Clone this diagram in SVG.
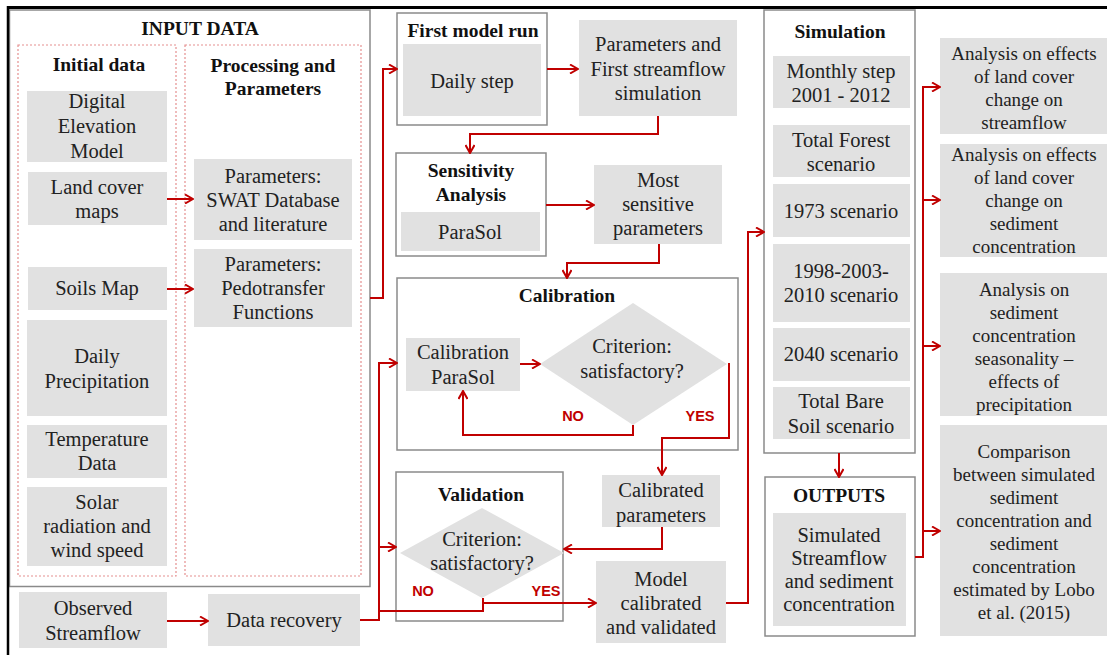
<svg xmlns="http://www.w3.org/2000/svg" width="1107" height="655" viewBox="0 0 1107 655">
<style>
.g{fill:#e1e1e1;stroke:none}
.f{fill:#fff;stroke:#8a8a8a;stroke-width:1.5}
.d{fill:none;stroke:#e58f8f;stroke-width:1.2;stroke-dasharray:2 2}
.t{font-family:"Liberation Serif","Times New Roman",serif;font-size:20.5px;fill:#222;text-anchor:middle}
.s{font-family:"Liberation Serif","Times New Roman",serif;font-size:19px;fill:#222;text-anchor:middle}
.b{font-family:"Liberation Serif","Times New Roman",serif;font-size:19.5px;font-weight:bold;fill:#111;text-anchor:middle}
.y{font-family:"Liberation Sans",Arial,sans-serif;font-size:14.5px;font-weight:bold;fill:#c00000;text-anchor:middle}
.c{fill:none;stroke:#c00000;stroke-width:2}
.a{marker-end:url(#arr)}
</style>
<defs>
<marker id="arr" viewBox="0 0 10 10" refX="9" refY="5" markerWidth="10" markerHeight="10" markerUnits="userSpaceOnUse" orient="auto">
<path d="M1,0.5 L9,5 L1,9.5" fill="none" stroke="#c00000" stroke-width="2"/>
</marker>
</defs>
<rect width="1107" height="655" fill="#fff"/>

<g id="input-data">
<rect class="f" x="9.5" y="10" width="360.5" height="576.5"/>
<text class="b" x="200" y="35">INPUT DATA</text>
<rect class="d" x="18" y="45" width="158" height="531"/>
<rect class="d" x="185" y="45" width="176" height="531"/>
<text class="b" x="99" y="71">Initial data</text>
<text class="b" x="273" y="72">Processing and</text>
<text class="b" x="273" y="95">Parameters</text>
</g>
<g id="dem"><rect class="g" x="27" y="91" width="140" height="71"/>
<text class="t" x="97" y="108">Digital</text><text class="t" x="97" y="133">Elevation</text><text class="t" x="97" y="158">Model</text></g>
<g id="landcover"><rect class="g" x="28" y="172" width="139" height="53"/>
<text class="t" x="97" y="194">Land cover</text><text class="t" x="97" y="218">maps</text></g>
<g id="soils"><rect class="g" x="28" y="267" width="139" height="43"/>
<text class="t" x="97" y="295">Soils Map</text></g>
<g id="precip"><rect class="g" x="27" y="320" width="140" height="96"/>
<text class="t" x="97" y="363">Daily</text><text class="t" x="97" y="388">Precipitation</text></g>
<g id="temp"><rect class="g" x="27" y="425" width="140" height="53"/>
<text class="t" x="97" y="446">Temperature</text><text class="t" x="97" y="470">Data</text></g>
<g id="solar"><rect class="g" x="27" y="487" width="140" height="79"/>
<text class="t" x="97" y="509">Solar</text><text class="t" x="97" y="533">radiation and</text><text class="t" x="97" y="557">wind speed</text></g>
<g id="swat"><rect class="g" x="194" y="159" width="158" height="81"/>
<text class="t" x="273" y="183">Parameters:</text><text class="t" x="273" y="207">SWAT Database</text><text class="t" x="273" y="231">and literature</text></g>
<g id="pedo"><rect class="g" x="194" y="249" width="158" height="78"/>
<text class="t" x="273" y="271">Parameters:</text><text class="t" x="273" y="295">Pedotransfer</text><text class="t" x="273" y="319">Functions</text></g>
<g id="observed"><rect class="g" x="19" y="592" width="148" height="56"/>
<text class="t" x="93" y="615">Observed</text><text class="t" x="93" y="640">Streamflow</text></g>
<g id="recovery"><rect class="g" x="208" y="594" width="152" height="52"/>
<text class="t" x="284" y="627">Data recovery</text></g>

<g id="first-run"><rect class="f" x="397" y="13" width="150" height="112"/>
<text class="b" x="473" y="37">First model run</text>
<rect class="g" x="403" y="44" width="138" height="72"/>
<text class="t" x="472" y="88">Daily step</text></g>
<g id="first-sim"><rect class="g" x="579" y="20" width="158" height="96"/>
<text class="t" x="658" y="51">Parameters and</text><text class="t" x="658" y="76">First streamflow</text><text class="t" x="658" y="100">simulation</text></g>
<g id="sensitivity"><rect class="f" x="396" y="153" width="150" height="103"/>
<text class="b" x="471" y="177">Sensitivity</text><text class="b" x="471" y="201">Analysis</text>
<rect class="g" x="401" y="212" width="139" height="39"/>
<text class="t" x="470" y="239">ParaSol</text></g>
<g id="most-sensitive"><rect class="g" x="594" y="165" width="128" height="79"/>
<text class="t" x="658" y="187">Most</text><text class="t" x="658" y="211">sensitive</text><text class="t" x="658" y="235">parameters</text></g>
<g id="calibration"><rect class="f" x="397" y="278" width="341" height="172"/>
<text class="b" x="567" y="302">Calibration</text>
<rect class="g" x="406" y="338" width="114" height="53"/>
<text class="t" x="463" y="359">Calibration</text><text class="t" x="463" y="384">ParaSol</text>
<polygon class="g" points="633,303 727,364 633,425 540,364"/>
<text class="t" x="632" y="353">Criterion:</text><text class="t" x="632" y="378">satisfactory?</text>
<text class="y" x="573" y="421">NO</text><text class="y" x="700" y="421">YES</text></g>
<g id="calibrated-params"><rect class="g" x="602" y="475" width="118" height="52"/>
<text class="t" x="661" y="497">Calibrated</text><text class="t" x="661" y="522">parameters</text></g>
<g id="validation"><rect class="f" x="396" y="472" width="167" height="149"/>
<text class="b" x="481" y="501">Validation</text>
<polygon class="g" points="482,508 564,553 482,598 400,553"/>
<text class="t" x="482" y="546">Criterion:</text><text class="t" x="482" y="570">satisfactory?</text>
<text class="y" x="423" y="596">NO</text><text class="y" x="546" y="596">YES</text></g>
<g id="model-validated"><rect class="g" x="596" y="561" width="130" height="82"/>
<text class="t" x="661" y="586">Model</text><text class="t" x="661" y="610">calibrated</text><text class="t" x="661" y="634">and validated</text></g>

<g id="simulation"><rect class="f" x="764" y="10" width="151" height="443"/>
<text class="b" x="840" y="38">Simulation</text>
<rect class="g" x="773" y="56" width="137" height="52"/>
<text class="t" x="841" y="78">Monthly step</text><text class="t" x="841" y="102">2001 - 2012</text>
<rect class="g" x="773" y="125" width="137" height="52"/>
<text class="t" x="841" y="147">Total Forest</text><text class="t" x="841" y="171">scenario</text>
<rect class="g" x="773" y="184" width="137" height="53"/>
<text class="t" x="841" y="218">1973 scenario</text>
<rect class="g" x="773" y="244" width="137" height="78"/>
<text class="t" x="841" y="278">1998-2003-</text><text class="t" x="841" y="302">2010 scenario</text>
<rect class="g" x="773" y="328" width="137" height="53"/>
<text class="t" x="841" y="361">2040 scenario</text>
<rect class="g" x="773" y="387" width="137" height="52"/>
<text class="t" x="841" y="408">Total Bare</text><text class="t" x="841" y="433">Soil scenario</text></g>
<g id="outputs"><rect class="f" x="765" y="477" width="150" height="159"/>
<text class="b" x="839" y="502">OUTPUTS</text>
<rect class="g" x="773" y="513" width="133" height="113"/>
<text class="t" x="839" y="542">Simulated</text><text class="t" x="839" y="565">Streamflow</text><text class="t" x="839" y="588">and sediment</text><text class="t" x="839" y="611">concentration</text></g>

<g id="analysis-streamflow"><rect class="g" x="940" y="38" width="170" height="96"/>
<text class="s" x="1024" y="60">Analysis on effects</text><text class="s" x="1024" y="83">of land cover</text><text class="s" x="1024" y="106">change on</text><text class="s" x="1024" y="129">streamflow</text></g>
<g id="analysis-sediment"><rect class="g" x="940" y="144" width="170" height="113"/>
<text class="s" x="1024" y="161">Analysis on effects</text><text class="s" x="1024" y="184">of land cover</text><text class="s" x="1024" y="207">change on</text><text class="s" x="1024" y="230">sediment</text><text class="s" x="1024" y="253">concentration</text></g>
<g id="analysis-seasonality"><rect class="g" x="940" y="273" width="170" height="143"/>
<text class="s" x="1024" y="296">Analysis on</text><text class="s" x="1024" y="319">sediment</text><text class="s" x="1024" y="342">concentration</text><text class="s" x="1024" y="365">seasonality –</text><text class="s" x="1024" y="388">effects of</text><text class="s" x="1024" y="411">precipitation</text></g>
<g id="comparison"><rect class="g" x="940" y="425" width="170" height="211"/>
<text class="s" x="1024" y="458">Comparison</text><text class="s" x="1024" y="481">between simulated</text><text class="s" x="1024" y="504">sediment</text><text class="s" x="1024" y="527">concentration and</text><text class="s" x="1024" y="550">sediment</text><text class="s" x="1024" y="573">concentration</text><text class="s" x="1024" y="596">estimated by Lobo</text><text class="s" x="1024" y="619">et al. (2015)</text></g>

<g id="connectors">
<path class="c a" d="M167,199 H193"/>
<path class="c a" d="M167,289 H193"/>
<path class="c a" d="M370,298 H383 V69 H397"/>
<path class="c a" d="M547,69 H578"/>
<path class="c a" d="M658,116 V134 H470 V153"/>
<path class="c a" d="M546,205 H594"/>
<path class="c a" d="M659,244 V263 H567 V278"/>
<path class="c a" d="M167,621 H208"/>
<path class="c a" d="M360,620 H379 V363 H397"/>
<path class="c a" d="M379,547 H396"/>
<path class="c a" d="M520,364 H540"/>
<path class="c a" d="M633,425 V435 H463 V391"/>
<path class="c a" d="M729,363 V438 H662 V475"/>
<path class="c a" d="M662,527 V549 H564"/>
<path class="c" d="M483,598 V611 H379"/>
<path class="c a" d="M483,603 H596"/>
<path class="c a" d="M726,603 H748 V232 H764"/>
<path class="c a" d="M839,453 V477"/>
<path class="c a" d="M915,557 H923 V87 H940"/>
<path class="c a" d="M923,200 H940"/>
<path class="c a" d="M923,346 H940"/>
<path class="c a" d="M923,531 H940"/>
</g>

<g id="border">
<path d="M7,7.5 H1107" stroke="#000" stroke-width="3" fill="none"/>
<path d="M8,6 V655" stroke="#000" stroke-width="2.5" fill="none"/>
</g>
</svg>
